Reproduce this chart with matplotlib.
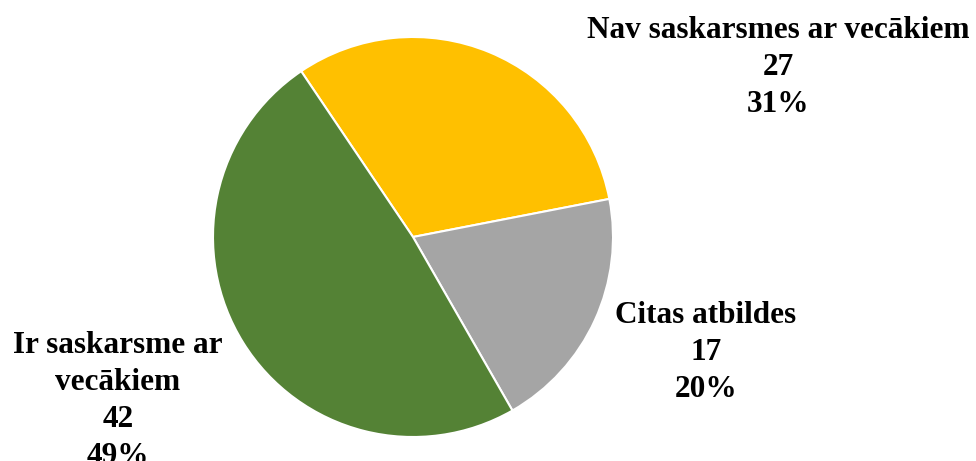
import matplotlib.pyplot as plt

labels = ["Nav saskarsmes ar vecākiem", "Citas atbildes", "Ir saskarsme ar\nvecākiem"]
values = [27, 17, 42]
percents = [31, 20, 49]
colors = ["#FFC000", "#A5A5A5", "#548235"]

plt.rcParams['font.family'] = ['Liberation Serif', 'DejaVu Serif']

fig = plt.figure(figsize=(9.76, 4.61), dpi=100)
W, H = 976, 461
cx, cy, r = 413, 237, 200
ax = fig.add_axes([(cx - r) / W, (H - cy - r) / H, 2 * r / W, 2 * r / H])

ax.pie(values, colors=colors, startangle=124, counterclock=False, radius=1,
       wedgeprops=dict(edgecolor="white", linewidth=1.5))
ax.set_xlim(-1, 1)
ax.set_ylim(-1, 1)
ax.set_aspect("equal")
ax.axis("off")

# label anchors in reference pixels: centre x, baseline of last line
label_pos = [(778, 112), (706, 397), (118, 464)]
for lab, v, p, (px, py) in zip(labels, values, percents, label_pos):
    ax.text((px - cx) / r, (cy - py) / r, f"{lab}\n{v}\n{p}%",
            ha="center", va="baseline", fontsize=22.5, fontweight="bold",
            linespacing=1.37, clip_on=False)

fig.savefig("out.png", dpi=100)
